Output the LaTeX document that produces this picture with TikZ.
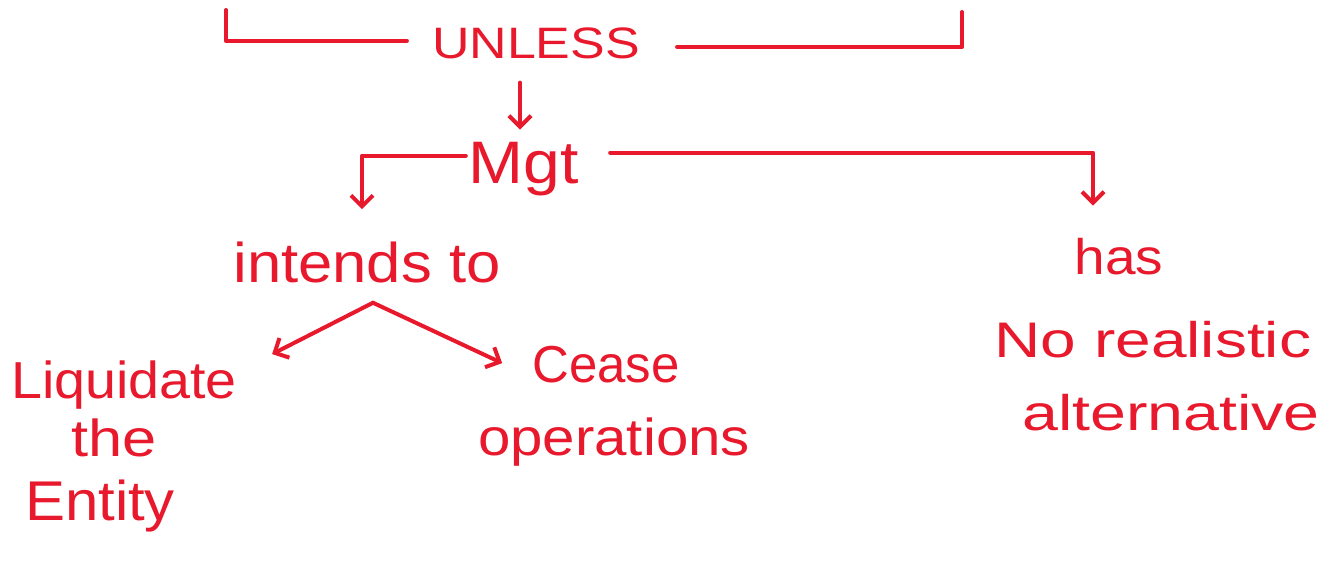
\documentclass[tikz,border=0pt]{standalone}
\usepackage{graphicx}
\usepackage{fontspec}
\setmainfont{Liberation Sans}
\usetikzlibrary{arrows.meta,calc}
\definecolor{ink}{HTML}{E8192C}
\newcommand{\hw}[3]{\fontsize{#1}{#1}\selectfont\scalebox{#2}[1]{#3}}
\begin{document}
\begin{tikzpicture}[x=1pt,y=-1pt,
  txt/.style={inner sep=0pt, anchor=base, text=ink},
  link/.style={draw=ink, line width=4pt, line cap=round, line join=round},
  arr/.style={link, -{Straight Barb[length=11pt,width=22pt]}}]
\fill[white] (0,0) rectangle (1327,565);
\useasboundingbox (0,0) rectangle (1327,565);

\node[txt] (unless) at (536,58) {\hw{44}{1.18}{UNLESS}};
\node[txt] (mgt) at (524,183) {\hw{60}{1.1}{Mgt}};
\node[txt] (intends) at (367,282) {\hw{56}{1.1}{intends to}};
\node[txt] (liquidate) at (124,398) {\hw{52}{1.07}{Liquidate}};
\node[txt] (the) at (114,456) {\hw{52}{1.18}{the}};
\node[txt] (entity) at (100,520) {\hw{56}{1.07}{Entity}};
\node[txt] (cease) at (606,382) {\hw{52}{0.98}{Cease}};
\node[txt] (operations) at (614,455) {\hw{52}{1.12}{operations}};
\node[txt] (has) at (1119,274) {\hw{50}{1.1}{has}};
\node[txt] (norealistic) at (1153,357) {\hw{50}{1.28}{No realistic}};
\node[txt] (alternative) at (1171,430) {\hw{50}{1.29}{alternative}};

\coordinate (lbt) at (226,10);
\coordinate (rbt) at (962,12);
\coordinate (split) at ($(intends.south)+(6,20)$);

\draw[link] (lbt) |- ($(unless.west)+(-25,-2)$);
\draw[link] ($(unless.east)+(37,4)$) -| (rbt);
\draw[arr] ($(unless.south)+(-16,24)$) -- ($(mgt.north)+(-4,-12)$);
\draw[arr] ($(mgt.west)+(-3,-13)$) -| ($(intends.north)+(-5,-32)$);
\draw[arr] ($(mgt.east)+(31,-16)$) -| ($(has.north)+(-26,-32)$);
\draw[arr] (split) -- ($(liquidate.north east)+(35,-6)$);
\draw[arr] (split) -- ($(cease.west)+(-30,-1)$);
\end{tikzpicture}
\end{document}
